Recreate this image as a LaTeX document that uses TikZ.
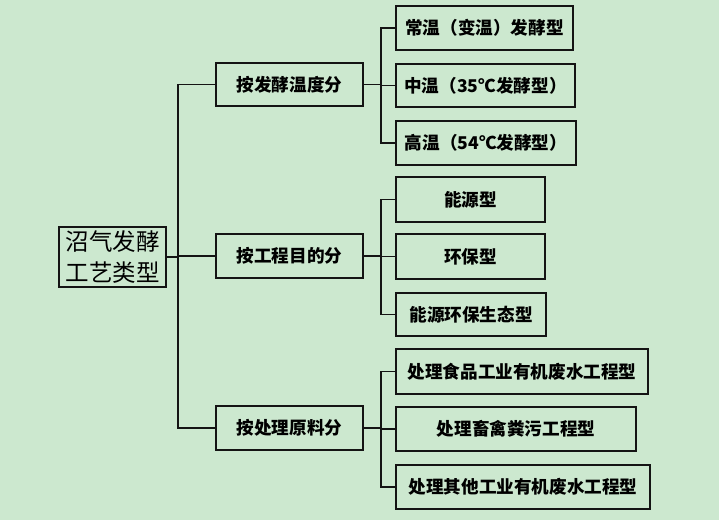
\documentclass[tikz,border=0pt]{standalone}
\usepackage{fontspec}
\newfontfamily\cjk{Noto Sans CJK SC}
\definecolor{bg}{RGB}{204,232,207}
\definecolor{ln}{RGB}{20,20,20}
\begin{document}
\begin{tikzpicture}[x=1pt,y=-1pt,
  box/.style={draw=ln,line width=2.3pt,inner sep=0pt,align=center,
    font=\cjk\bfseries\fontsize{17.6}{20}\selectfont},
  rootbox/.style={draw=ln,line width=2.3pt,inner sep=0pt,align=center,
    font=\cjk\fontsize{23.5}{31}\selectfont},
  conn/.style={draw=ln,line width=1.8pt}]
\fill[bg] (0,0) rectangle (719,520);
\useasboundingbox (0,0) rectangle (719,520);
\node[rootbox,minimum width=107pt,minimum height=60pt] (root) at (112.5,257) {沼气发酵\\工艺类型};
\node[box,minimum width=147pt,minimum height=43pt] (la) at (289.5,84.5) {按发酵温度分};
\node[box,minimum width=147pt,minimum height=44pt] (lb) at (289.5,256) {按工程目的分};
\node[box,minimum width=147pt,minimum height=44pt] (lc) at (289.5,428) {按处理原料分};
\node[box,minimum width=177pt,minimum height=44pt] (c1) at (484.5,28) {常温（变温）发酵型};
\node[box,minimum width=179pt,minimum height=43pt] (c2) at (485.5,85.5) {中温（35℃发酵型）};
\node[box,minimum width=180pt,minimum height=44pt] (c3) at (486,143) {高温（54℃发酵型）};
\node[box,minimum width=149pt,minimum height=45pt] (c4) at (470.5,199.5) {能源型};
\node[box,minimum width=149pt,minimum height=45pt] (c5) at (470.5,256.5) {环保型};
\node[box,minimum width=150pt,minimum height=43pt] (c6) at (471,314.5) {能源环保生态型};
\node[box,minimum width=252pt,minimum height=45pt] (c7) at (522,371.5) {处理食品工业有机废水工程型};
\node[box,minimum width=240pt,minimum height=44pt] (c8) at (516,429) {处理畜禽粪污工程型};
\node[box,minimum width=254pt,minimum height=44pt] (c9) at (523,487) {处理其他工业有机废水工程型};
\coordinate (t) at (178,0);
\coordinate (g) at (381,0);
\draw[conn] (root.east) -- (root.east -| t);
\draw[conn] (la.west) -| (t |- lc.west) -- (lc.west);
\draw[conn] (lb.west) -- (lb.west -| t);
\foreach \p/\a/\b/\c in {la/c1/c2/c3, lb/c4/c5/c6, lc/c7/c8/c9}{
  \draw[conn] (\p.east) -- (\p.east -| g);
  \draw[conn] (\a.west) -| (g |- \c.west) -- (\c.west);
  \draw[conn] (\b.west) -- (\b.west -| g);
}
\end{tikzpicture}
\end{document}
